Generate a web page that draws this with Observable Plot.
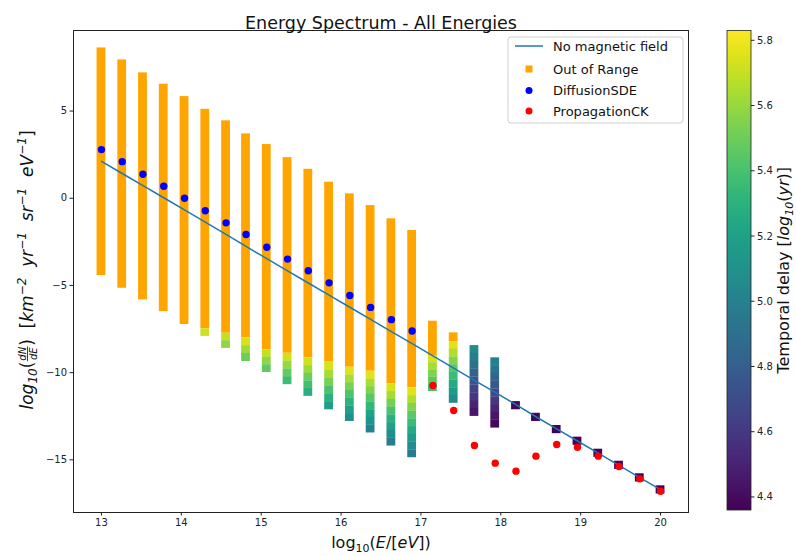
<!DOCTYPE html>
<html><head><meta charset="utf-8">
<script src="https://cdn.jsdelivr.net/npm/d3@7"></script>
<script src="https://cdn.jsdelivr.net/npm/@observablehq/plot@0.6"></script>
<style>
body{margin:0;background:#fff;}
#chart svg{display:block;}
</style>
</head><body><div id="chart"></div>
<script>
// ---- data ----
const energy = [13.00, 13.26, 13.52, 13.78, 14.04, 14.30, 14.56, 14.81, 15.07, 15.33, 15.59, 15.85, 16.11, 16.37,
                16.63, 16.89, 17.15, 17.41, 17.67, 17.93, 18.19, 18.44, 18.70, 18.96, 19.22, 19.48, 19.74, 20.00];
const noFieldFlux = [2.12, 1.42, 0.72, 0.03, -0.67, -1.37, -2.07, -2.76, -3.46, -4.16, -4.86, -5.55, -6.25, -6.95,
                     -7.65, -8.34, -9.04, -9.74, -10.44, -11.13, -11.83, -12.53, -13.23, -13.92, -14.62, -15.32, -16.02, -16.71];
const diffusionFlux = [2.79, 2.10, 1.38, 0.69, 0.00, -0.72, -1.41, -2.08, -2.81, -3.49, -4.16, -4.85, -5.58, -6.26, -6.96, -7.61];
const propagationFlux = [-10.74, -12.17, -14.18, -15.19, -15.65, -14.79, -14.12, -14.28, -14.79, -15.38, -16.09, -16.80]; // bins 16..27
const outOfRangeTop = [8.62, 7.93, 7.19, 6.54, 5.83, 5.10, 4.44, 3.69, 3.08, 2.33, 1.66, 0.92, 0.25, -0.42, -1.18, -1.85, -7.05, -7.72];
const outOfRangeBottom = [-4.43, -5.16, -5.83, -6.50, -7.24, -7.49, -7.74, -8.00, -8.68, -8.89, -9.16, -9.40, -9.69, -9.92, -10.64, -10.87, -9.02, -8.22];
const delayedTop = [null, null, null, null, null, -7.49, -7.74, -8.00, -8.68, -8.89, -9.16, -9.40, -9.69, -9.92,
                    -10.64, -10.87, -9.02, -8.22, -8.45, -9.15, -11.66, -12.33, -13.03, -13.70, -14.39, -15.08, -15.80, -16.49];
const delayedBottom = [null, null, null, null, null, -7.91, -8.60, -9.35, -9.98, -10.68, -11.35, -12.12, -12.79, -13.45,
                       -14.20, -14.87, -11.07, -11.75, -12.50, -13.17, -12.12, -12.79, -13.49, -14.16, -14.85, -15.54, -16.26, -16.95];
const delayBands = [
  [], [], [], [], [],
  [5.72],
  [5.70, 5.58],
  [5.74, 5.62, 5.50],
  [5.70, 5.58, 5.47],
  [5.72, 5.60, 5.48, 5.37],
  [5.72, 5.61, 5.50, 5.39, 5.28],
  [5.74, 5.63, 5.52, 5.41, 5.30, 5.18],
  [5.75, 5.64, 5.53, 5.42, 5.31, 5.20, 5.09],
  [5.76, 5.65, 5.55, 5.44, 5.33, 5.22, 5.12, 5.02],
  [5.74, 5.63, 5.52, 5.41, 5.30, 5.19, 5.08, 4.97],
  [5.76, 5.66, 5.56, 5.46, 5.36, 5.26, 5.16, 5.06, 4.96],
  [5.74, 5.64, 5.55, 5.46, 5.38],
  [5.76, 5.66, 5.56, 5.46, 5.36, 5.26, 5.16, 5.06],
  [5.06, 4.98, 4.90, 4.82, 4.74, 4.66, 4.59, 4.52, 4.45],
  [5.00, 4.92, 4.84, 4.76, 4.68, 4.60, 4.52, 4.45, 4.39],
  [4.38], [4.37], [4.37], [4.37], [4.37], [4.37], [4.37], [4.37]
];
const xTicks = [13, 14, 15, 16, 17, 18, 19, 20];
const yTicks = [-15, -10, -5, 0, 5];
const delayTicks = [4.4, 4.6, 4.8, 5.0, 5.2, 5.4, 5.6, 5.8];
const legendLabels = ["No magnetic field", "Out of Range", "DiffusionSDE", "PropagationCK"];

// ---- build mark data ----
const HW = 0.055;
const lineData = energy.map((e, i) => ({x: e, y: noFieldFlux[i]}));
const diffData = diffusionFlux.map((v, i) => ({x: energy[i], y: v}));
const propData = propagationFlux.map((v, i) => ({x: energy[16 + i], y: v}));
const orangeData = outOfRangeTop.map((t, i) => ({x1: energy[i] - HW, x2: energy[i] + HW, y1: outOfRangeBottom[i], y2: t}));
const cells = [];
delayBands.forEach((bands, i) => {
  if (!bands.length) return;
  const top = delayedTop[i], bot = delayedBottom[i];
  const h = (top - bot) / bands.length;
  bands.forEach((d, j) => {
    cells.push({x1: energy[i] - HW, x2: energy[i] + HW, y2: top - j * h, y1: top - (j + 1) * h - 0.01, delay: d});
  });
});

const chart = Plot.plot({
  width: 796, height: 556,
  marginLeft: 73, marginRight: 108, marginTop: 30, marginBottom: 44,
  style: {fontFamily: "'DejaVu Sans', sans-serif", fontSize: "10px", color: "#222", background: "#fff"},
  x: {domain: [12.65, 20.35]},
  y: {domain: [-18.02, 9.62]},
  color: {type: "linear", scheme: "viridis", domain: [4.36, 5.83]},
  marks: [
    Plot.rect(orangeData, {x1: "x1", x2: "x2", y1: "y1", y2: "y2", fill: "#ffa500"}),
    Plot.rect(cells, {x1: "x1", x2: "x2", y1: "y1", y2: "y2", fill: "delay"}),
    Plot.line(lineData, {x: "x", y: "y", stroke: "#1f77b4", strokeWidth: 1.5}),
    Plot.dot(diffData, {x: "x", y: "y", r: 3.7, fill: "#0000ff"}),
    Plot.dot(propData, {x: "x", y: "y", r: 3.7, fill: "#ff0000"}),
    Plot.frame({stroke: "#222", strokeWidth: 1}),
    Plot.axisX({ticks: xTicks, tickSize: 3.5, tickPadding: 3, label: null, tickFormat: d => String(d), fontSize: 10}),
    Plot.axisY({ticks: yTicks, tickSize: 3.5, tickPadding: 3, label: null, fontSize: 10}),
    Plot.text(["Energy Spectrum - All Energies"], {frameAnchor: "top", dy: -14, fontSize: 17.5, fill: "#111"})
  ]
});
document.getElementById("chart").appendChild(chart);

const svg = d3.select(chart);
const FONT = "'DejaVu Sans', sans-serif";

// rich text helper
function rich(parent, parts, size) {
  const g = parent.append("g").attr("font-family", FONT).attr("fill", "#111").attr("text-anchor", "start");
  let x = 0;
  for (const p of parts) {
    if (p.frac) {
      const fs = p.size || 9;
      const num = g.append("text").attr("font-size", fs).attr("font-style", "italic").attr("y", -7.5).text(p.frac[0]);
      const den = g.append("text").attr("font-size", fs).attr("font-style", "italic").attr("y", 4).text(p.frac[1]);
      const wn = num.node().getComputedTextLength(), wd = den.node().getComputedTextLength();
      const w = Math.max(wn, wd) + 2;
      num.attr("x", x + (w - wn) / 2);
      den.attr("x", x + (w - wd) / 2);
      g.append("line").attr("x1", x + 0.5).attr("x2", x + w - 0.5).attr("y1", -5.5).attr("y2", -5.5).attr("stroke", "#111").attr("stroke-width", 0.8);
      x += w;
    } else {
      const t = g.append("text").attr("x", x).attr("y", p.dy || 0).attr("font-size", p.size || size)
        .attr("font-style", p.italic ? "italic" : null).attr("xml:space", "preserve").style("white-space", "pre").text(p.text);
      x += t.node().getComputedTextLength();
    }
  }
  return {g, width: x};
}

// x label
{
  const holder = svg.append("g");
  const r = rich(holder, [
    {text: "log"}, {text: "10", size: 11, dy: 4}, {text: "("}, {text: "E", italic: true}, {text: "/["},
    {text: "eV", italic: true}, {text: "])"}
  ], 16);
  holder.attr("transform", `translate(${381 - r.width / 2},548)`);
}
// y label
{
  const holder = svg.append("g");
  const sup = (t) => ({text: t, size: 12, dy: -7.5, italic: true});
  const r = rich(holder, [
    {text: "log", italic: true}, {text: "10", size: 12, dy: 4, italic: true}, {text: "("},
    {frac: ["dN", "dE"], size: 10}, {text: ")"}, {text: "  ["}, {text: "km", italic: true}, sup("−2"),
    {text: "  yr", italic: true}, sup("−1"), {text: "  sr", italic: true}, sup("−1"),
    {text: "  eV", italic: true}, sup("−1"), {text: "]"}
  ], 17);
  holder.attr("transform", `translate(33,${270}) rotate(-90) translate(${-r.width / 2},0)`);
}

// legend
{
  const lg = svg.append("g").attr("font-family", FONT).attr("font-size", 13).attr("text-anchor", "start");
  lg.append("rect").attr("x", 508).attr("y", 37).attr("width", 175).attr("height", 86).attr("rx", 3)
    .attr("fill", "#fff").attr("fill-opacity", 0.8).attr("stroke", "#d0d0d0");
  const rows = [46, 69, 90.5, 111];
  lg.append("line").attr("x1", 515).attr("x2", 543).attr("y1", rows[0]).attr("y2", rows[0]).attr("stroke", "#1f77b4").attr("stroke-width", 1.5);
  lg.append("rect").attr("x", 525.5).attr("y", rows[1] - 3.5).attr("width", 7).attr("height", 7).attr("fill", "#ffa500");
  lg.append("circle").attr("cx", 529).attr("cy", rows[2]).attr("r", 3.5).attr("fill", "#0000ff");
  lg.append("circle").attr("cx", 529).attr("cy", rows[3]).attr("r", 3.5).attr("fill", "#ff0000");
  legendLabels.forEach((t, i) => lg.append("text").attr("x", 553).attr("y", rows[i] + 4.7).attr("fill", "#111").text(t));
}

// colorbar
{
  const cs = chart.scale("color");
  const [d0, d1] = cs.domain;
  const top = 30.5, bot = 510, left = 727, w = 24;
  const yb = d3.scaleLinear().domain([d0, d1]).range([bot, top]);
  const defs = svg.append("defs");
  const grad = defs.append("linearGradient").attr("id", "cbgrad").attr("x1", 0).attr("x2", 0).attr("y1", 1).attr("y2", 0);
  d3.range(0, 1.0001, 0.05).forEach(t => grad.append("stop").attr("offset", t).attr("stop-color", cs.apply(d0 + t * (d1 - d0))));
  const cb = svg.append("g").attr("font-family", FONT).attr("text-anchor", "start");
  cb.append("rect").attr("x", left).attr("y", top).attr("width", w).attr("height", bot - top).attr("fill", "url(#cbgrad)")
    .attr("stroke", "#222").attr("stroke-width", 0.8);
  delayTicks.forEach(v => {
    const y = yb(v);
    cb.append("line").attr("x1", left + w).attr("x2", left + w + 3.5).attr("y1", y).attr("y2", y).attr("stroke", "#222");
    cb.append("text").attr("x", left + w + 6).attr("y", y + 3.5).attr("font-size", 10).attr("fill", "#222").text(v.toFixed(1));
  });
  const holder = svg.append("g");
  const r = rich(holder, [
    {text: "Temporal delay ["}, {text: "log", italic: true}, {text: "10", size: 11, dy: 4, italic: true},
    {text: "(", italic: false}, {text: "yr", italic: true}, {text: ")]"}
  ], 16);
  holder.attr("transform", `translate(789,${(top + bot) / 2}) rotate(-90) translate(${-r.width / 2},0)`);
}
</script>
</body></html>
